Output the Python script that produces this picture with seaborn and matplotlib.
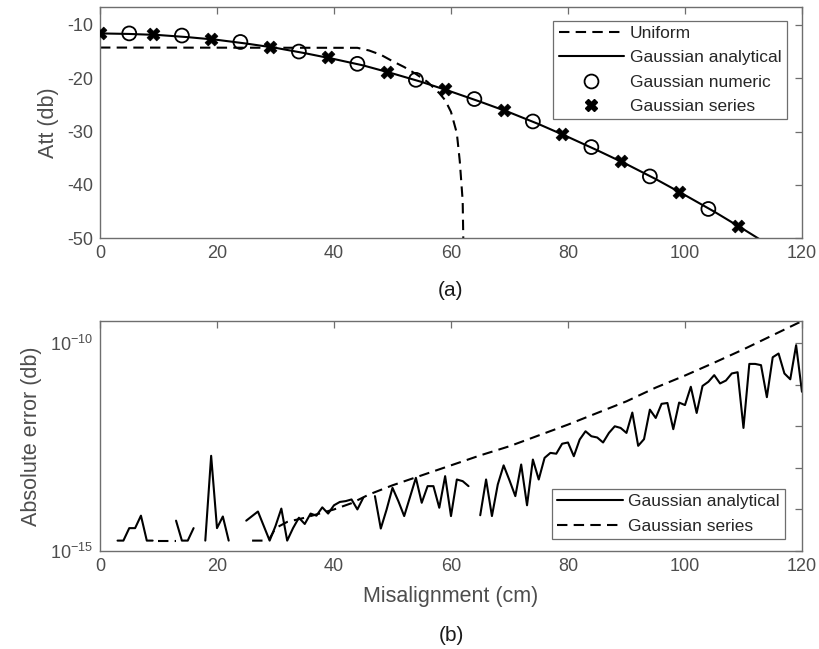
import numpy as np
import pandas as pd
import seaborn as sns
import matplotlib.pyplot as plt
from matplotlib.lines import Line2D
from matplotlib.ticker import FixedLocator, NullLocator, FixedFormatter

# ---- panel (a): attenuation vs misalignment ----
analytic_x = [0, 5, 10, 15, 20, 25, 30, 35, 40, 45, 50, 55, 60, 65, 70, 75, 80, 85, 90, 95, 100, 105, 110, 115]
analytic_att = [-11.6, -11.7, -11.9, -12.3, -12.8, -13.5, -14.3, -15.3, -16.4, -17.6, -19.1, -20.7,
                -22.5, -24.4, -26.4, -28.6, -31.0, -33.5, -36.1, -38.9, -41.9, -45.0, -48.3, -51.7]
uniform_x = [0, 44, 46, 48, 50, 52, 54, 56, 58, 59, 60, 61, 61.5, 62, 62.25]
uniform_att = [-14.25, -14.3, -14.8, -15.6, -16.8, -17.9, -19.2, -20.7, -22.8, -24.1, -26.3, -30.3, -35.5, -43.0, -60.0]
numeric_x = [5, 14, 24, 34, 44, 54, 64, 74, 84, 94, 104]
numeric_att = [-11.6, -12.0, -13.2, -15.0, -17.3, -20.3, -23.9, -28.1, -32.9, -38.4, -44.5]
series_x_a = [0, 9, 19, 29, 39, 49, 59, 69, 79, 89, 99, 109]
series_att = [-11.6, -11.8, -12.6, -14.1, -16.1, -18.8, -22.1, -25.9, -30.4, -35.6, -41.3, -47.7]

# ---- panel (b): absolute error (log10 of value) ----
err_x = list(range(1, 121))
analytic_err_exp = [
    np.nan, np.nan, -14.75, -14.75, -14.45, -14.45, -14.15, -14.75, -14.75, np.nan,
    np.nan, np.nan, -14.27, -14.75, -14.75, -14.45, np.nan, -14.75, -12.71, -14.45,
    -14.17, -14.75, np.nan, np.nan, -14.27, -14.16, -14.05, -14.40, -14.75, -14.40,
    -13.98, -14.75, -14.45, -14.20, -14.35, -14.10, -14.15, -13.95, -14.10, -13.90,
    -13.82, -13.80, -13.76, -14.00, -13.72, np.nan, -13.68, -14.46, -14.00, -13.48,
    -13.80, -14.16, -13.70, -13.24, -13.84, -13.44, -13.44, -13.96, -13.20, -14.16,
    -13.28, -13.32, -13.44, np.nan, -14.14, -13.28, -14.16, -13.40, -12.94, -13.30,
    -13.68, -12.92, -13.90, -12.80, -13.28, -12.76, -12.64, -12.66, -12.42, -12.39,
    -12.72, -12.32, -12.12, -12.24, -12.27, -12.39, -12.16, -12.00, -12.04, -12.16,
    -11.67, -12.47, -12.31, -11.60, -11.80, -11.46, -11.44, -12.07, -11.43, -11.49,
    -11.05, -11.68, -11.03, -10.93, -10.77, -10.97, -10.90, -10.73, -10.70, -12.04,
    -10.50, -10.50, -10.53, -11.30, -10.34, -10.25, -10.73, -10.87, -10.05, -11.17,
]
series_x_b = [10, 11, 12, 13, np.nan, 26, 27, 28, 29, 30, 32, 35, 40, 43, 46, 50, 55, 60,
              65, 70, 75, 80, 85, 90, 95, 100, 105, 110, 115, 120]
series_err_exp = [-14.75, -14.75, -14.75, -14.75, np.nan, -14.75, -14.75, -14.75, -14.70, -14.45,
                  -14.30, -14.20, -14.00, -13.85, -13.64, -13.42, -13.18, -12.94, -12.70, -12.48,
                  -12.22, -11.96, -11.68, -11.40, -11.07, -10.78, -10.47, -10.15, -9.81, -9.47]


def segments(x, y):
    # split on NaN so the line shows gaps like the original
    df = pd.DataFrame({"x": x, "y": y})
    df["seg"] = df["y"].isna().cumsum()
    return df.dropna()


sns.set_theme(style="white")
plt.rcParams["font.family"] = ["Liberation Sans", "DejaVu Sans"]
plt.rcParams["axes.unicode_minus"] = False
plt.rcParams["mathtext.default"] = "regular"

gray = "#4d4d4d"
spine = "#6e6e6e"
fig = plt.figure(figsize=(8.19, 6.49), dpi=100)
ax1 = fig.add_axes([0.1221, 0.6328, 0.8571, 0.356])
ax2 = fig.add_axes([0.1221, 0.151, 0.8571, 0.3549])

lw = 1.5
dash = (5, 3)

# panel (a)
sns.lineplot(x=uniform_x, y=uniform_att, ax=ax1, color="black", lw=lw,
             linestyle=(0, dash), sort=False, estimator=None)
sns.lineplot(x=analytic_x, y=analytic_att, ax=ax1, color="black", lw=lw, estimator=None)
sns.scatterplot(x=numeric_x, y=numeric_att, ax=ax1, marker="o", s=100, facecolor="none",
                edgecolor="black", linewidth=1.3, zorder=3)
sns.scatterplot(x=series_x_a, y=series_att, ax=ax1, marker="X", s=85, color="black",
                edgecolor="black", linewidth=0.5, zorder=4)
ax1.set_xlim(0, 120)
ax1.set_ylim(-50, -6.7)
ax1.set_xticks(range(0, 121, 20))
ax1.set_yticks([-50, -40, -30, -20, -10])
ax1.set_ylabel("Att (db)", fontsize=15.5, color=gray, labelpad=6)
ax1.text(0.5, -0.225, "(a)", transform=ax1.transAxes, ha="center", va="center",
         fontsize=15, color="#1a1a1a")

h_a = [Line2D([], [], color="black", lw=lw, linestyle=(0, dash)),
       Line2D([], [], color="black", lw=lw),
       Line2D([], [], color="black", lw=0, marker="o", ms=10, mfc="none", mew=1.3),
       Line2D([], [], color="black", lw=0, marker="X", ms=9)]
leg = ax1.legend(h_a, ["Uniform", "Gaussian analytical", "Gaussian numeric", "Gaussian series"],
                 loc="upper right", bbox_to_anchor=(0.978, 0.941), fontsize=12.5,
                 handlelength=3.8, handletextpad=0.3, borderpad=0.3, labelspacing=0.52,
                 fancybox=False, framealpha=1, borderaxespad=0)
leg.get_frame().set_edgecolor(spine)
leg.get_frame().set_linewidth(0.9)

# panel (b)
ana = segments(err_x, analytic_err_exp)
ana["err"] = 10.0 ** ana["y"]
ser = segments(series_x_b, series_err_exp)
ser["err"] = 10.0 ** ser["y"]
sns.lineplot(data=ana, x="x", y="err", units="seg", estimator=None, ax=ax2,
             color="black", lw=lw)
sns.lineplot(data=ser, x="x", y="err", units="seg", estimator=None, ax=ax2,
             color="black", lw=lw, linestyle=(0, dash))
ax2.set_yscale("log")
ax2.set_xlim(0, 120)
ax2.set_ylim(1e-15, 10 ** -9.46)
ax2.set_xticks(range(0, 121, 20))
dec_ticks = [1e-15, 1e-14, 1e-13, 1e-12, 1e-11, 1e-10]
ax2.yaxis.set_major_locator(FixedLocator(dec_ticks))
ax2.yaxis.set_major_formatter(FixedFormatter(["$10^{-15}$", "", "", "", "", "$10^{-10}$"]))
ax2.yaxis.set_minor_locator(NullLocator())
ax2.set_xlabel("Misalignment (cm)", fontsize=15.5, color=gray, labelpad=8)
ax2.set_ylabel("Absolute error (db)", fontsize=15.5, color=gray, labelpad=6)
ax2.text(0.5, -0.365, "(b)", transform=ax2.transAxes, ha="center", va="center",
         fontsize=15, color="#1a1a1a")

h_b = [Line2D([], [], color="black", lw=lw),
       Line2D([], [], color="black", lw=lw, linestyle=(0, dash))]
leg2 = ax2.legend(h_b, ["Gaussian analytical", "Gaussian series"], loc="lower right",
                  bbox_to_anchor=(0.976, 0.052), fontsize=12.5, handlelength=3.8,
                  handletextpad=0.3, borderpad=0.3, labelspacing=0.55, fancybox=False,
                  framealpha=1, borderaxespad=0)
leg2.get_frame().set_edgecolor(spine)
leg2.get_frame().set_linewidth(0.9)

for ax in (ax1, ax2):
    for s in ax.spines.values():
        s.set_color(spine)
        s.set_linewidth(1.0)
    ax.tick_params(which="both", direction="in", top=True, right=True, length=5,
                   width=0.9, color=spine, labelcolor=gray, labelsize=13, pad=5)

ax1.set_xlabel("")
fig.savefig("out.png", dpi=100)
